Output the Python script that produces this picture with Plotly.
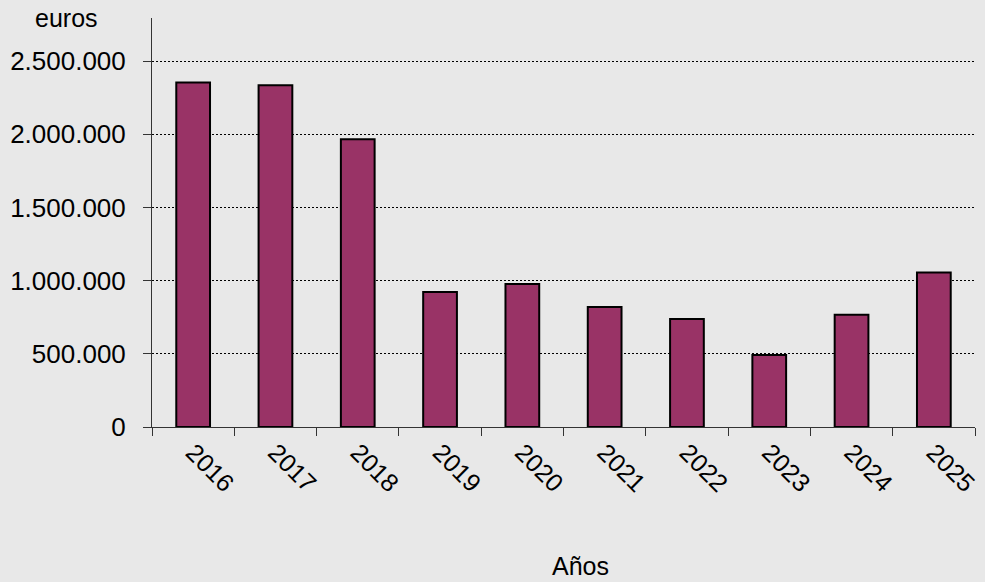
import plotly.graph_objects as go

years = ["2016", "2017", "2018", "2019", "2020", "2021", "2022", "2023", "2024", "2025"]
values = [2355000, 2336000, 1967000, 922000, 977000, 820000, 738000, 492000, 767000, 1055000]
y_ticks = [0, 500000, 1000000, 1500000, 2000000, 2500000]
y_tick_labels = ["0", "500.000", "1.000.000", "1.500.000", "2.000.000", "2.500.000"]

fig = go.Figure()
fig.add_trace(go.Bar(
    x=years, y=values,
    marker=dict(color="#993366", line=dict(color="#000000", width=2)),
    width=0.41,
))

fig.update_layout(
    width=985, height=582,
    margin=dict(l=152, r=5, t=18, b=155),
    paper_bgcolor="#e8e8e8",
    plot_bgcolor="#e8e8e8",
    font=dict(family="Liberation Sans, Arial, sans-serif", size=26, color="#000000"),
    showlegend=False,
    xaxis=dict(
        type="category",
        tickangle=45,
        showline=True, linecolor="#333333", linewidth=1,
        ticks="outside", ticklen=8, tickcolor="#333333",
        tickson="boundaries",
        showgrid=False,
        tickfont=dict(size=25),
    ),
    yaxis=dict(
        range=[0, 2795000],
        tickvals=y_ticks, ticktext=y_tick_labels,
        showline=True, linecolor="#333333", linewidth=1,
        ticks="outside", ticklen=8, tickcolor="#333333",
        showgrid=True, gridcolor="#000000", gridwidth=1, griddash="2px,2px",
        zeroline=False,
        tickfont=dict(size=26),
        ticklabelstandoff=12,
    ),
)

fig.add_annotation(
    text="euros", xref="paper", yref="paper",
    x=-0.0628, y=1.0, xanchor="right", yanchor="middle",
    showarrow=False, font=dict(size=25),
)
fig.add_annotation(
    text="Años", xref="paper", yref="paper",
    x=0.521, y=-0.3396, xanchor="center", yanchor="middle",
    showarrow=False, font=dict(size=25),
)

fig.write_html("out.html", config={"displayModeBar": False},
               post_script="document.body.style.margin='0';")
